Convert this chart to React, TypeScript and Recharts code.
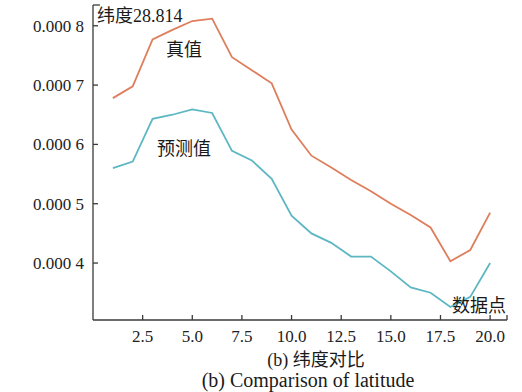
import { Line, LineChart, ReferenceLine, XAxis, YAxis } from "recharts"

const points = [1, 2, 3, 4, 5, 6, 7, 8, 9, 10, 11, 12, 13, 14, 15, 16, 17, 18, 19, 20]
const trueValues = [
  0.000678, 0.000698, 0.000777, 0.000793, 0.000808, 0.000812, 0.000747, 0.000725, 0.000703, 0.000625,
  0.000581, 0.000561, 0.00054, 0.000521, 0.0005, 0.000481, 0.00046, 0.000403, 0.000422, 0.000485,
]
const predValues = [
  0.00056, 0.000571, 0.000643, 0.00065, 0.000659, 0.000653, 0.000589, 0.000573, 0.000542, 0.00048,
  0.00045, 0.000434, 0.000411, 0.000411, 0.000386, 0.000359, 0.00035, 0.000326, 0.000343, 0.0004,
]
const xTicks = [2.5, 5, 7.5, 10, 12.5, 15, 17.5, 20]
const yTicks = [0.0004, 0.0005, 0.0006, 0.0007, 0.0008]
const yTickLabels = ["0.000 4", "0.000 5", "0.000 6", "0.000 7", "0.000 8"]

const X_MAX = 20.85
const Y_MIN = 0.000304
const Y_MAX = 0.000835

const data = points.map((x, i) => ({ x, real: trueValues[i], pred: predValues[i] }))

const serif = "'Liberation Serif', 'Noto Sans CJK SC', serif"
const latin = "'Liberation Serif', serif"
const axisColor = "#3a3a3a"

const label = (left: number, top: number, text: React.ReactNode, size = 18) => (
  <div
    style={{
      position: "absolute",
      left,
      top,
      fontFamily: serif,
      fontSize: size,
      lineHeight: `${size}px`,
      color: "#1a1a1a",
      whiteSpace: "nowrap",
    }}
  >
    {text}
  </div>
)

export default function App() {
  return (
    <div style={{ position: "absolute", left: 0, top: 0, width: 522, height: 392, background: "#fff" }}>
      <LineChart width={522} height={392} data={data} margin={{ top: 5, right: 15, left: 0, bottom: 42 }}>
        <XAxis
          dataKey="x"
          type="number"
          domain={[0, X_MAX]}
          ticks={xTicks}
          tickFormatter={(v) => Number(v).toFixed(1)}
          height={30}
          tickSize={-5}
          tickMargin={15}
          allowDataOverflow
          axisLine={{ stroke: axisColor, strokeWidth: 1.3 }}
          tickLine={{ stroke: axisColor, strokeWidth: 1.3 }}
          tick={{ fill: "#222", fontSize: 17, fontFamily: latin }}
        />
        <YAxis
          type="number"
          domain={[Y_MIN, Y_MAX]}
          ticks={yTicks}
          tickFormatter={(v) => yTickLabels[yTicks.indexOf(v)] ?? String(v)}
          width={93}
          tickSize={-5}
          tickMargin={14}
          allowDataOverflow
          axisLine={{ stroke: axisColor, strokeWidth: 1.3 }}
          tickLine={{ stroke: axisColor, strokeWidth: 1.3 }}
          tick={{ fill: "#222", fontSize: 17, fontFamily: latin }}
        />
        <ReferenceLine
          segment={[{ x: 0, y: Y_MAX }, { x: 0.35, y: Y_MAX }]}
          stroke={axisColor}
          strokeWidth={1.3}
          ifOverflow="visible"
        />
        <ReferenceLine
          segment={[{ x: X_MAX, y: Y_MIN }, { x: X_MAX, y: Y_MIN + 0.0000085 }]}
          stroke={axisColor}
          strokeWidth={1.3}
          ifOverflow="visible"
        />
        <Line type="linear" dataKey="real" stroke="#de7e5c" strokeWidth={1.8} dot={false} isAnimationActive={false} />
        <Line type="linear" dataKey="pred" stroke="#5db7c3" strokeWidth={1.8} dot={false} isAnimationActive={false} />
      </LineChart>
      {label(
        97,
        7,
        <>
          纬度<span style={{ fontFamily: latin }}>28.814</span>
        </>
      )}
      {label(166, 41, "真值")}
      {label(157, 140, "预测值")}
      {label(452, 297, "数据点")}
      <div
        style={{
          position: "absolute",
          left: 216,
          width: 200,
          top: 351,
          textAlign: "center",
          fontFamily: serif,
          fontSize: 18,
          lineHeight: "18px",
          color: "#1a1a1a",
        }}
      >
        <span style={{ fontFamily: latin }}>(b) </span>纬度对比
      </div>
      <div
        style={{
          position: "absolute",
          left: 158,
          width: 300,
          top: 370,
          textAlign: "center",
          fontFamily: latin,
          fontSize: 20,
          lineHeight: "20px",
          color: "#1a1a1a",
        }}
      >
        (b) Comparison of latitude
      </div>
    </div>
  )
}
